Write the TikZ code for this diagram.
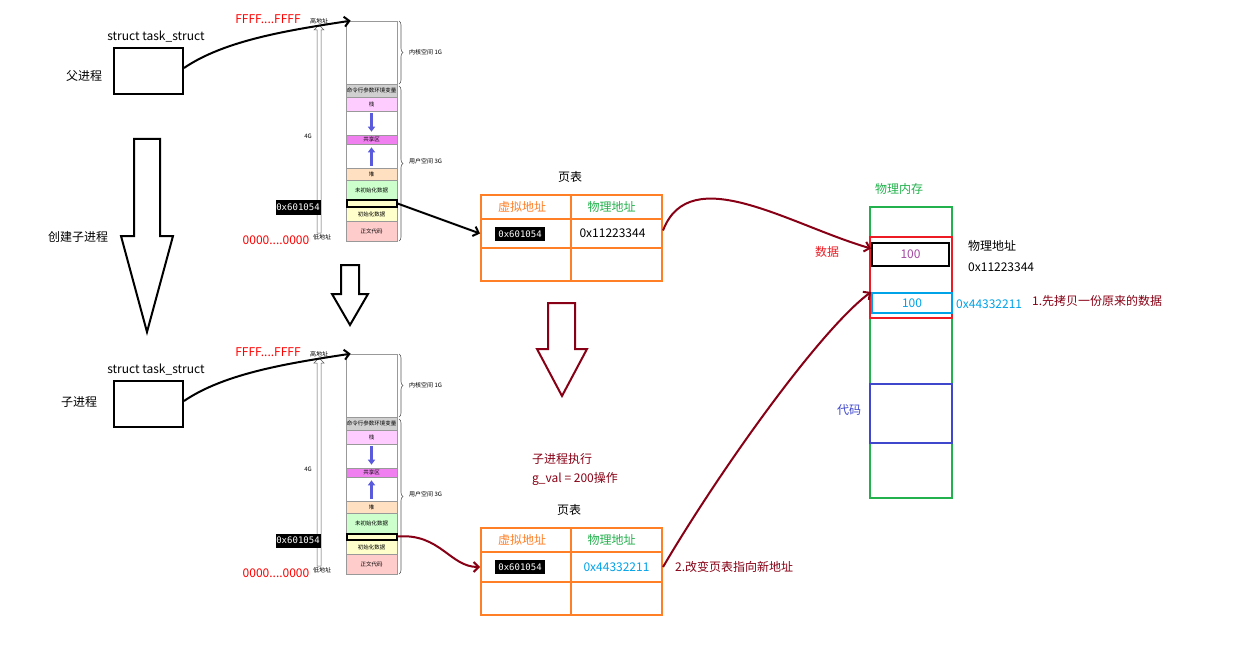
\documentclass[tikz,border=0pt]{standalone}
\usepackage{fontspec}
\setmainfont{Noto Sans CJK SC}
\newfontfamily\monof{DejaVu Sans Mono}
\usetikzlibrary{arrows.meta,decorations.pathreplacing}
\definecolor{dred}{RGB}{136,0,21}
\definecolor{orng}{RGB}{255,127,39}
\definecolor{grn}{RGB}{34,177,76}
\definecolor{rd}{RGB}{237,28,36}
\definecolor{lblue}{RGB}{0,162,232}
\definecolor{indg}{RGB}{63,72,204}
\definecolor{purp}{RGB}{163,73,164}
\definecolor{cgray}{RGB}{208,208,208}
\definecolor{cpink}{RGB}{255,204,255}
\definecolor{cmag}{RGB}{240,128,240}
\definecolor{cpeach}{RGB}{255,224,192}
\definecolor{cgreen}{RGB}{204,255,204}
\definecolor{cyell}{RGB}{255,255,204}
\definecolor{crose}{RGB}{255,204,204}
\definecolor{barblue}{RGB}{90,90,220}
\begin{document}
\begin{tikzpicture}[x=1pt,y=-1pt,
  lbl/.style={font=\fontsize{12}{14}\selectfont, inner sep=0pt},
  tinyt/.style={font=\fontsize{6}{7}\selectfont, inner sep=0pt},
  sec/.style={draw=gray!80, line width=0.6pt, minimum width=51pt, inner sep=0pt, font=\fontsize{5.5}{6}\selectfont},
  addr/.style={fill=black, text=white, font=\monof\fontsize{9}{10}\selectfont, inner sep=0pt, minimum width=45pt, minimum height=14pt},
  cell/.style={draw=orng, line width=2pt, minimum width=90pt, inner sep=0pt, font=\fontsize{12}{14}\selectfont},
  blkarr/.style={line width=2pt, -{Straight Barb[length=5pt,width=10pt]}},
  redarr/.style={dred, line width=2pt, -{Straight Barb[length=5pt,width=10pt]}},
  barrow/.style={barblue, line width=2.5pt, -{Triangle[length=5pt,width=7pt]}},
  bigarrow/.style={line width=2pt, line join=miter},
  brc/.style={draw=gray!70!black, line width=0.6pt, decorate, decoration={brace, amplitude=4pt}}
]
\useasboundingbox[fill=white] (0,0) rectangle (1244,663);

% ---------- two process memory layouts ----------
\foreach \p/\dy in {top/0, bot/333} {
\begin{scope}[shift={(0,\dy)}, name prefix=\p-]
  \node[lbl] (st) at (156,37) {struct task\_struct};
  \node[draw, line width=2pt, minimum width=69pt, minimum height=46pt, inner sep=0pt] (tbox) at (148.5,71) {};
  \node[lbl, text=red] (ff) at (268,19) {FFFF....FFFF};
  \node[lbl, text=red] (zz) at (276,240) {0000....0000};
  % address axis
  \draw[gray!70!black, line width=0.5pt, fill=white] (317,233) -- (317,30) -- (314,30) -- (319,25) -- (324,30) -- (321,30) -- (321,233) -- cycle;
  \node[tinyt] (hi) at (319,21) {高地址};
  \node[tinyt] (lo) at (322,237) {低地址};
  \node[tinyt] (fg) at (308,136) {4G};
  \node[addr] (va) at (298,207.5) {0x601054};
  % sections
  \node[sec, minimum height=63pt] (kern) at (371.5,52.5) {};
  \node[sec, fill=cgray, minimum height=13pt] (args) at (371.5,90.5) {命令行参数环境变量};
  \node[sec, fill=cpink, minimum height=14pt] (stk) at (371.5,104) {栈};
  \node[sec, minimum height=24pt] (gap1) at (371.5,123) {};
  \node[sec, fill=cmag, minimum height=9pt] (shr) at (371.5,139.5) {共享区};
  \node[sec, minimum height=24pt] (gap2) at (371.5,156) {};
  \node[sec, fill=cpeach, minimum height=12pt] (heap) at (371.5,174) {堆};
  \node[sec, fill=cgreen, minimum height=20pt] (bss) at (371.5,190) {未初始化数据};
  \node[sec, fill=cyell, minimum height=14pt] (data) at (371.5,214) {初始化数据};
  \node[sec, fill=crose, minimum height=20pt] (txt) at (371.5,231) {正文代码};
  \node[sec, draw=black, line width=2pt, fill=cyell, minimum width=50pt, minimum height=6pt] (hl) at (371.5,203.5) {};
  \draw[barrow, shorten <=2pt, shorten >=3pt] (stk.south) -- (shr.north);
  \draw[barrow, shorten <=2pt, shorten >=3pt] (heap.north) -- (shr.south);
  % braces
  \draw[brc] (399,21) -- (399,84);
  \draw[brc] (399,86) -- (399,241);
  \node[tinyt, anchor=west] (kl) at (409,52) {内核空间 1G};
  \node[tinyt, anchor=west] (ul) at (409,161) {用户空间 3G};
  % task_struct -> memory
  \draw[blkarr] ([yshift=3pt]tbox.east) .. controls (225,40) and (290,30) .. ([xshift=5pt]kern.north west);
\end{scope}
}

\node[lbl] (fa) at (84,76) {父进程};
\node[lbl] (ch) at (79,402) {子进程};
\node[lbl] (cr) at (78,237) {创建子进程};

% big arrows
\draw[bigarrow] (134,139) -- (160,139) -- (160,236) -- (173,236) -- (147,332) -- (121,236) -- (134,236) -- cycle;
\draw[bigarrow] (341,265) -- (359,265) -- (359,294) -- (368,294) -- (350,325) -- (332,294) -- (341,294) -- cycle;
\draw[bigarrow, dred] (548,303) -- (575,303) -- (575,349) -- (587,349) -- (562,396) -- (537,349) -- (548,349) -- cycle;

% ---------- page table 1 ----------
\node[lbl] (pt1) at (570,177) {页表};
\node[cell, minimum height=24pt, text=orng] (t1-h1) at (526,207) {\hspace*{-8pt}虚拟地址};
\node[cell, minimum width=91pt, minimum height=24pt, text=grn] (t1-h2) at (616.5,207) {\hspace*{-10pt}物理地址};
\node[cell, minimum height=29pt] (t1-v) at (526,233.5) {};
\node[cell, minimum width=91pt, minimum height=29pt] (t1-p) at (616.5,233.5) {\hspace*{-8pt}0x11223344};
\node[cell, minimum height=33pt] (t1-e1) at (526,264.5) {};
\node[cell, minimum width=91pt, minimum height=33pt] (t1-e2) at (616.5,264.5) {};
\node[addr, minimum width=50pt] (t1-va) at (520,234) {0x601054};

% ---------- page table 2 ----------
\node[lbl] (pt2) at (569,510) {页表};
\node[cell, minimum height=24pt, text=orng] (t2-h1) at (526,540) {\hspace*{-8pt}虚拟地址};
\node[cell, minimum width=91pt, minimum height=24pt, text=grn] (t2-h2) at (616.5,540) {\hspace*{-10pt}物理地址};
\node[cell, minimum height=30pt] (t2-v) at (526,567) {};
\node[cell, minimum width=91pt, minimum height=30pt, text=lblue] (t2-p) at (616.5,567) {0x44332211};
\node[cell, minimum height=33pt] (t2-e1) at (526,598.5) {};
\node[cell, minimum width=91pt, minimum height=33pt] (t2-e2) at (616.5,598.5) {};
\node[addr, minimum width=50pt] (t2-va) at (520,567) {0x601054};

\node[lbl, text=dred, anchor=west] (ex1) at (532,459) {子进程执行};
\node[lbl, text=dred, anchor=west] (ex2) at (532,479) {g\_val = 200操作};
\node[lbl, text=dred, anchor=west] (chg) at (675,567) {2.改变页表指向新地址};

% memory -> page tables
\draw[blkarr] (top-hl.east) -- (t1-v.west);
\draw[redarr] (bot-hl.east) .. controls (440,533) and (450,567) .. (t2-v.west);

% ---------- physical memory ----------
\node[lbl, text=grn] (pmt) at (899,189) {物理内存};
\node[draw=grn, line width=2pt, minimum width=82pt, minimum height=291pt, inner sep=0pt] (pm) at (911,352.5) {};
\node[draw=indg, line width=2pt, minimum width=82pt, minimum height=59pt, inner sep=0pt] (code) at (911,413.5) {};
\node[lbl, text=indg] (codel) at (849,410) {代码};
\node[draw=rd, line width=2pt, minimum width=82pt, minimum height=81pt, inner sep=0pt] (rbox) at (911,277.5) {};
\node[draw=black, line width=2pt, minimum width=77pt, minimum height=23pt, inner sep=0pt, text=purp, font=\fontsize{12}{14}\selectfont] (blk) at (910.5,254.5) {100};
\node[draw=lblue, line width=2pt, minimum width=80pt, minimum height=20pt, inner sep=0pt, text=lblue, font=\fontsize{12}{14}\selectfont] (blu) at (912,303) {100};
\node[lbl, text=rd] (dat) at (827,252) {数据};
\node[lbl, anchor=west] (pa1) at (968,246) {物理地址};
\node[lbl, anchor=west] (pa2) at (968,267) {0x11223344};
\node[lbl, anchor=west, text=lblue] (pa3) at (956,304) {0x44332211};
\node[lbl, anchor=west, text=dred] (cp) at (1032,301) {1.先拷贝一份原来的数据};

% page tables -> physical memory
\draw[redarr] ([yshift=3pt]t1-p.east) .. controls (690,160) and (790,225) .. ([yshift=6pt]blk.west);
\draw[redarr] (t2-p.east) .. controls (720,470) and (820,330) .. (blu.north west);
\end{tikzpicture}
\end{document}
